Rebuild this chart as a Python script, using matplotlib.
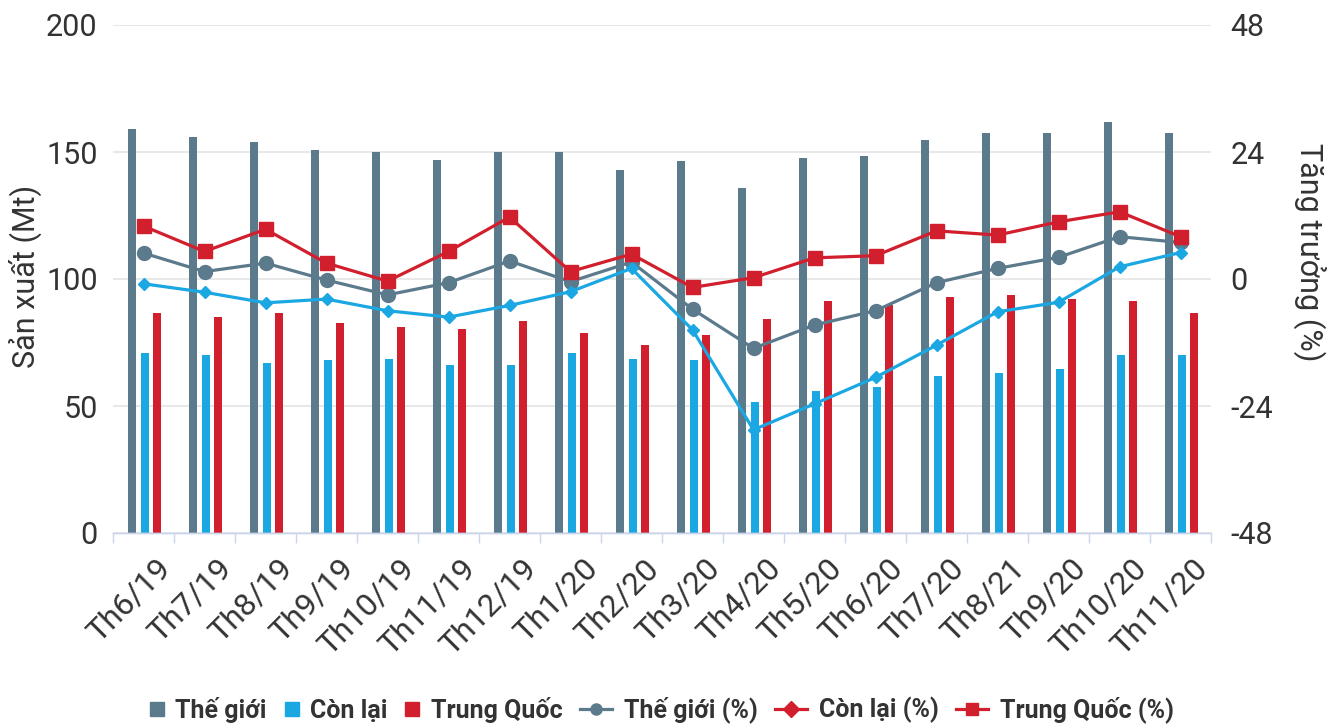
import matplotlib
matplotlib.use("Agg")
import matplotlib.pyplot as plt
from matplotlib.lines import Line2D
from matplotlib.legend_handler import HandlerLine2D
from matplotlib.transforms import ScaledTranslation
import numpy as np

plt.rcParams['font.family'] = ['Roboto', 'DejaVu Sans']
plt.rcParams['axes.unicode_minus'] = False

# --- data -------------------------------------------------------------
months = ["Th6/19", "Th7/19", "Th8/19", "Th9/19", "Th10/19", "Th11/19",
          "Th12/19", "Th1/20", "Th2/20", "Th3/20", "Th4/20", "Th5/20",
          "Th6/20", "Th7/20", "Th8/21", "Th9/20", "Th10/20", "Th11/20"]

# production (Mt)
world = [159, 155.8, 154, 150.8, 150, 147, 150, 150, 143, 146.3,
         136, 147.5, 148.4, 154.7, 157.3, 157.3, 161.8, 157.3]
rest = [71, 70, 67, 68, 68.4, 66, 66, 71, 68.4, 68,
        51.4, 55.9, 57.6, 61.8, 63.1, 64.7, 70, 70]
china = [86.5, 84.9, 86.5, 82.8, 81, 80.2, 83.5, 78.6, 74, 78,
         84.3, 91.3, 89.8, 92.8, 93.7, 92.1, 91.3, 86.5]

# growth (%)
world_pct = [4.9, 1.4, 3.0, -0.2, -3.0, -0.7, 3.4, -0.5, 3.2, -5.7,
             -13.1, -8.7, -6.0, -0.7, 2.0, 4.1, 8.0, 6.9]
rest_pct = [-0.9, -2.5, -4.5, -3.8, -6.0, -7.2, -5.0, -2.4, 2.0, -9.6,
            -28.5, -23.6, -18.6, -12.5, -6.2, -4.4, 2.3, 5.0]
china_pct = [10.0, 5.2, 9.4, 3.0, -0.4, 5.2, 11.7, 1.4, 4.7, -1.6,
             0.25, 4.0, 4.4, 9.1, 8.3, 10.8, 12.7, 8.0]

left_ticks = [0, 50, 100, 150, 200]
right_ticks = [-48, -24, 0, 24, 48]

# --- style ------------------------------------------------------------
C_WORLD = "#5b7a8c"
C_REST = "#1ba7e1"
C_CHINA = "#d21f2d"
TXT = "#333333"
GRID = "#e6e6e6"
AXIS = "#ccd6eb"

fig = plt.figure(figsize=(13.4, 7.24), dpi=100)
ax = fig.add_axes([113 / 1340, 1 - 533 / 724, 1098 / 1340, 508 / 724])
ax2 = ax.twinx()

x = np.arange(len(months))
bw = 0.13
ax.bar(x - 0.19, world, bw, color=C_WORLD, zorder=2)
ax.bar(x + 0.02, rest, bw, color=C_REST, zorder=2)
ax.bar(x + 0.22, china, bw, color=C_CHINA, zorder=2)

ax2.plot(x, world_pct, color=C_WORLD, lw=2.3, marker='o', ms=10, zorder=3)
ax2.plot(x, rest_pct, color=C_REST, lw=2.3, marker='D', ms=6.5, zorder=4)
ax2.plot(x, china_pct, color=C_CHINA, lw=2.3, marker='s', ms=10, zorder=5)

# left axis
ax.set_xlim(-0.5, len(months) - 0.5)
ax.set_ylim(0, 200)
ax.set_yticks(left_ticks)
ax.yaxis.grid(True, color=GRID, lw=1.3, zorder=0)
ax.set_axisbelow(True)
ax.tick_params(axis='y', length=0, pad=11, labelsize=22, labelcolor=TXT)
ax.set_ylabel("Sản xuất (Mt)", fontsize=22, color=TXT,
              va='center', ha='center')
ax.yaxis.set_label_coords(-0.080, 0.506)

# right axis
ax2.set_ylim(-48, 48)
ax2.set_yticks(right_ticks)
ax2.tick_params(axis='y', length=0, pad=14, labelsize=22, labelcolor=TXT)
ax2.set_ylabel("Tăng trưởng (%)", fontsize=22, color=TXT, rotation=270,
               va='center', ha='center')
ax2.yaxis.set_label_coords(1.09, 0.553)

# category axis
ax.set_xticks(x)
ax.set_xticklabels(months, rotation=45, ha='right', va='top',
                   rotation_mode='anchor', fontsize=23, color=TXT)
ax.tick_params(axis='x', which='major', length=0, pad=15)
shift = ScaledTranslation(0.12, 0, fig.dpi_scale_trans)
for lab in ax.get_xticklabels():
    lab.set_transform(lab.get_transform() + shift)
ax.set_xticks(np.arange(-0.5, len(months)), minor=True)
ax.tick_params(axis='x', which='minor', length=7, width=1, color=AXIS)

for a in (ax, ax2):
    for s in ("top", "left", "right"):
        a.spines[s].set_visible(False)
    a.spines["bottom"].set_color(AXIS)
    a.spines["bottom"].set_linewidth(1)


# legend: bar entries get a narrow handle box, line entries a wider one
class NarrowHandler(HandlerLine2D):
    def __init__(self, width, **kw):
        super().__init__(**kw)
        self._w = width

    def legend_artist(self, legend, orig_handle, fontsize, handlebox):
        handlebox.width = self._w
        return super().legend_artist(legend, orig_handle, fontsize, handlebox)


h_world = Line2D([], [], ls='none', marker='s', ms=10, color=C_WORLD)
h_rest = Line2D([], [], ls='none', marker='s', ms=10, color=C_REST)
h_china = Line2D([], [], ls='none', marker='s', ms=10, color=C_CHINA)
h_world_pct = Line2D([], [], color=C_WORLD, lw=2.3, marker='o', ms=8)
h_rest_pct = Line2D([], [], color=C_CHINA, lw=2.3, marker='D', ms=8)
h_china_pct = Line2D([], [], color=C_CHINA, lw=2.3, marker='s', ms=8)

handles = [h_world, h_rest, h_china, h_world_pct, h_rest_pct, h_china_pct]
labels = ["Thế giới", "Còn lại", "Trung Quốc",
          "Thế giới (%)", "Còn lại (%)", "Trung Quốc (%)"]
hmap = {h: NarrowHandler(10) for h in (h_world, h_rest, h_china)}
leg = fig.legend(handles, labels, handler_map=hmap, loc='center',
                 bbox_to_anchor=(0.494, 1 - 710 / 724), ncol=6,
                 frameon=False, handlelength=23 / 18,
                 handletextpad=0.45, columnspacing=0.72,
                 prop={'size': 18, 'weight': 'bold'})
for t in leg.get_texts():
    t.set_color(TXT)

fig.savefig("out.png", dpi=100, facecolor="white")
